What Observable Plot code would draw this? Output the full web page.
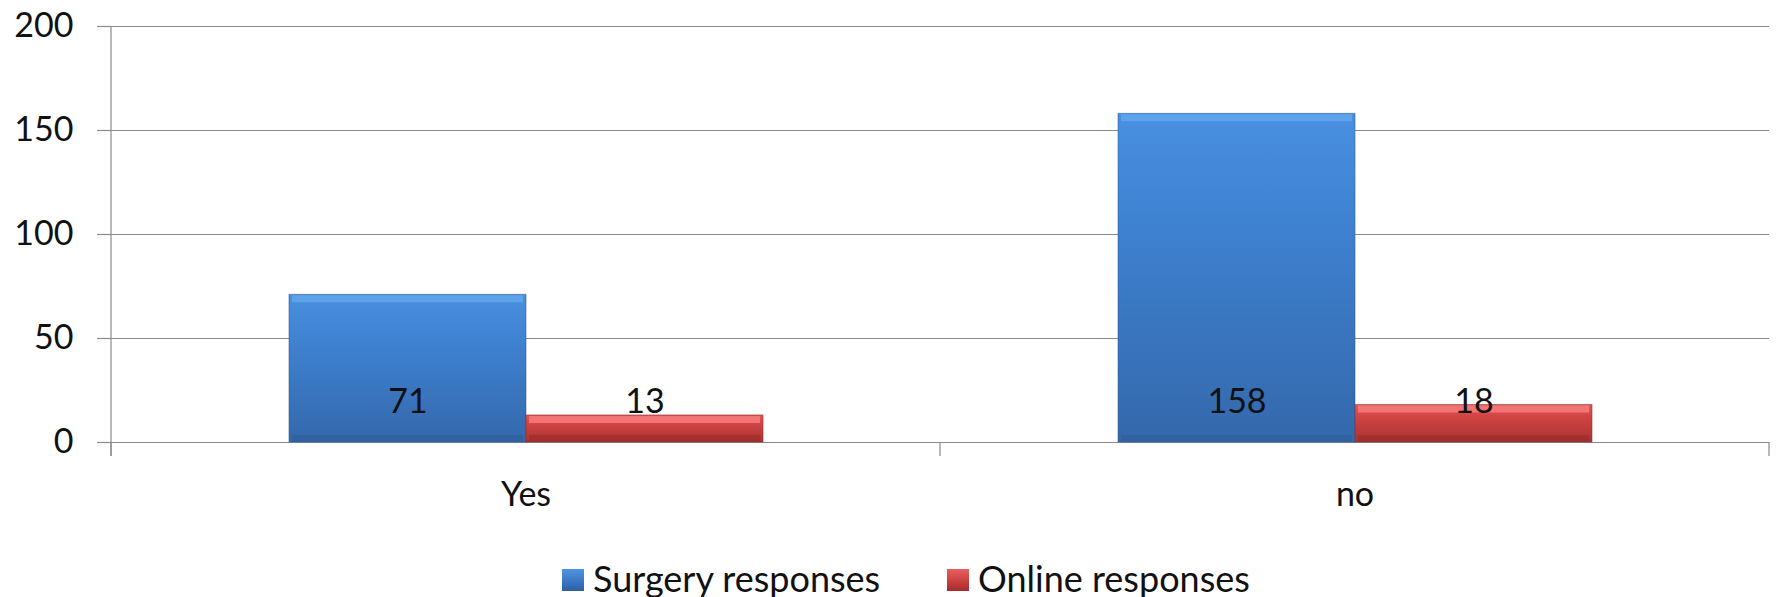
<!DOCTYPE html>
<html>
<head>
<meta charset="utf-8">
<script src="https://cdn.jsdelivr.net/npm/d3@7"></script>
<script src="https://cdn.jsdelivr.net/npm/@observablehq/plot@0.6"></script>
<style>
  html, body { margin: 0; padding: 0; background: #fff; }
  body { width: 1777px; height: 597px; overflow: hidden; font-family: Lato, "Open Sans", sans-serif; }
  #chart svg { display: block; }
  #legend { position: relative; height: 52px; }
  .item { position: absolute; top: 15px; display: flex; align-items: center; font-size: 36px; color: #111; line-height: 1; }
  .sw { width: 22px; height: 22px; margin-right: 9px; margin-top: 4px; }
</style>
</head>
<body>
<div id="chart"></div>
<div id="legend"></div>
<script>
const groups = ["Yes", "no"];
const series = ["Surgery responses", "Online responses"];
const surgery = [71, 158];
const online = [13, 18];
const yTicks = [0, 50, 100, 150, 200];

const data = groups.flatMap((g, i) => [
  {group: g, series: series[0], value: surgery[i]},
  {group: g, series: series[1], value: online[i]}
]);

const W = 1777, H = 545, mL = 111, mR = 8, mT = 26, mB = 103;
const grid = "#8a8a8a";

const chart = Plot.plot({
  width: W, height: H,
  marginLeft: mL, marginRight: mR, marginTop: mT, marginBottom: mB,
  style: {fontFamily: "Lato, 'Open Sans', sans-serif", color: "#111", background: "#fff"},
  fx: {domain: groups, padding: 0, label: null},
  x: {domain: series, paddingInner: 0, paddingOuter: 0.745, axis: null},
  y: {domain: [0, 200], ticks: yTicks},
  color: {domain: series, range: ["url(#gBlue)", "url(#gRed)"]},
  marks: [
    Plot.gridY(yTicks, {stroke: grid, strokeOpacity: 1, strokeWidth: 1.2}),
    Plot.axisY({ticks: yTicks, tickSize: 14, tickPadding: 24, fontSize: 34, label: null, stroke: grid, strokeWidth: 1.2}),
    Plot.axisFx({anchor: "bottom", tickSize: 0, tickPadding: 39, fontSize: 34, label: null}),
    Plot.barY(data, {fx: "group", x: "series", y: "value", fill: "series",
      stroke: d => d.series === series[0] ? "#2c5a94" : "#8e2a2a", strokeOpacity: 0.55, strokeWidth: 1}),
    // bevel highlight on top
    Plot.tickY(data, {fx: "group", x: "series", y: "value", dy: 4, strokeWidth: 7,
      stroke: d => d.series === series[0] ? "#5ea2ea" : "#f27474", insetLeft: 3, insetRight: 3}),
    // bevel shadow at bottom
    Plot.tickY(data, {fx: "group", x: "series", y: 0, dy: -4, strokeWidth: 7,
      stroke: d => d.series === series[0] ? "#2f5f9e" : "#9c2d2d", strokeOpacity: 0.7, insetLeft: 3, insetRight: 3}),
    Plot.text(data, {fx: "group", x: "series", y: 0, text: d => String(d.value), dy: -40,
      fontSize: 34, fill: "#111", textAnchor: "middle"})
  ]
});

// gradients
const svg = d3.select(chart);
const defs = svg.insert("defs", ":first-child");
function grad(id, stops) {
  const g = defs.append("linearGradient").attr("id", id).attr("x1", 0).attr("y1", 0).attr("x2", 0).attr("y2", 1);
  stops.forEach(([o, c]) => g.append("stop").attr("offset", o).attr("stop-color", c));
}
grad("gBlue", [[0, "#4a90e0"], [0.3, "#3f83d3"], [1, "#3468ab"]]);
grad("gRed", [[0, "#e45656"], [0.35, "#cf4343"], [1, "#aa3232"]]);

// axis line and category separator ticks, from the library's scales
const y = chart.scale("y"), fx = chart.scale("fx");
const y0 = y.apply(0), yTop = y.apply(200);
const edges = [...groups.map(g => fx.apply(g)), fx.apply(groups[groups.length - 1]) + fx.bandwidth];
const deco = svg.append("g").attr("stroke", grid).attr("stroke-width", 1.2);
deco.append("line").attr("x1", edges[0]).attr("x2", edges[0]).attr("y1", yTop).attr("y2", y0 + 14);
edges.forEach(x => deco.append("line").attr("x1", x).attr("x2", x).attr("y1", y0).attr("y2", y0 + 14));

document.getElementById("chart").appendChild(chart);

// legend
const legend = document.getElementById("legend");
const legendItems = [
  {label: series[0], left: 562, bg: "linear-gradient(#4f95e2, #3a74c0 60%, #2f5f9e)"},
  {label: series[1], left: 947, bg: "linear-gradient(#e86060, #c83c3c 60%, #a02f2f)"}
];
legendItems.forEach(it => {
  const d = document.createElement("div");
  d.className = "item";
  d.style.left = it.left + "px";
  const s = document.createElement("span");
  s.className = "sw";
  s.style.background = it.bg;
  const t = document.createElement("span");
  t.textContent = it.label;
  d.appendChild(s); d.appendChild(t);
  legend.appendChild(d);
});
</script>
</body>
</html>
